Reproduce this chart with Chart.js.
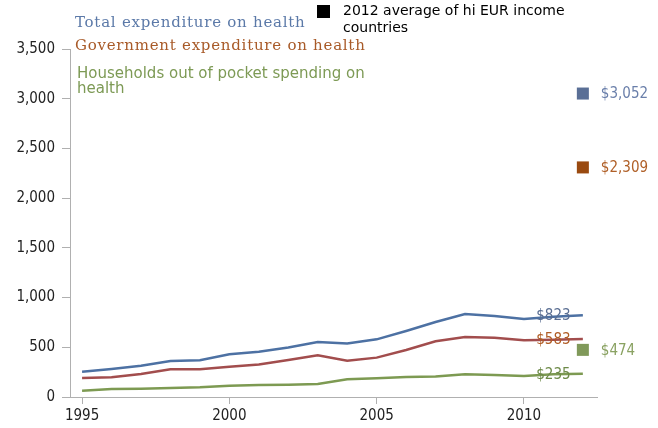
<!DOCTYPE html>
<html>
<head>
<meta charset="utf-8">
<script src="https://cdn.jsdelivr.net/npm/chart.js@4.4.0/dist/chart.umd.min.js"></script>
<style>
  html, body { margin: 0; padding: 0; background: #ffffff; }
  #wrap { width: 658px; height: 428px; }
</style>
</head>
<body>
<div id="wrap"><canvas id="c" width="658" height="428"></canvas></div>
<script>
// ---- data ----
const years = [1995,1996,1997,1998,1999,2000,2001,2002,2003,2004,2005,2006,2007,2008,2009,2010,2011,2012];
const totalExp = [255,282,315,363,370,430,455,497,553,537,580,664,755,835,815,785,808,823];
const govExp   = [191,198,231,278,278,305,328,372,419,365,396,473,560,604,597,570,577,583];
const oopExp   = [64,80,84,90,97,114,121,124,131,178,188,201,205,228,221,211,228,235];
const avgYear = 2012;
const avgValues = [3052, 2309, 474];
const tickYears = [1995, 2000, 2005, 2010];
const seriesNames = ['Total expenditure on health', 'Government expenditure on health', 'Households out of pocket spending on', 'health'];
const avgLegend = ['2012 average of hi EUR income', 'countries'];

// ---- style ----
const lineColors = ['#4d71a3', '#a24d4d', '#7d9a52'];
const legendColors = ['#5b79a8', '#a85a28', '#7d9a55'];
const squareColors = ['#5a6f96', '#9a4a10', '#80995a'];
const avgLabelColors = ['#6a7faa', '#b06028', '#8aa262'];
const endLabelColors = ['#5a6e92', '#b05c24', '#6d8a48'];
const condFont = '"DejaVu Sans Condensed", "DejaVu Sans", sans-serif';
const sansFont = '"DejaVu Sans", sans-serif';
const serifFont = '"DejaVu Serif", serif';

function pts(arr) { return arr.map((v, i) => ({ x: years[i], y: v })); }
const fmt = v => '$' + v.toLocaleString('en-US');

const labelPlugin = {
  id: 'labels',
  afterDatasetsDraw(chart) {
    const ctx = chart.ctx;
    const xs = chart.scales.x, ys = chart.scales.y;
    ctx.save();
    // average labels
    ctx.font = '15px ' + condFont;
    ctx.textAlign = 'left';
    ctx.textBaseline = 'middle';
    avgValues.forEach((v, i) => {
      ctx.fillStyle = avgLabelColors[i];
      ctx.fillText(fmt(v), xs.getPixelForValue(avgYear) + 18, ys.getPixelForValue(v) + 1);
    });
    // end labels
    ctx.textAlign = 'center';
    const series = [totalExp, govExp, oopExp];
    series.forEach((arr, i) => {
      const v = arr[arr.length - 1];
      ctx.fillStyle = endLabelColors[i];
      ctx.fillText(fmt(v), xs.getPixelForValue(years[years.length - 2]), ys.getPixelForValue(v) + 1);
    });
    // legend texts
    ctx.textAlign = 'left';
    ctx.textBaseline = 'alphabetic';
    ctx.font = '15px ' + serifFont;
    ctx.letterSpacing = '0.75px';
    ctx.fillStyle = legendColors[0];
    ctx.fillText(seriesNames[0], 75, 27);
    ctx.fillStyle = legendColors[1];
    ctx.fillText(seriesNames[1], 75, 50);
    ctx.letterSpacing = '0px';
    ctx.font = '15px ' + sansFont;
    ctx.fillStyle = legendColors[2];
    ctx.fillText(seriesNames[2], 77, 78);
    ctx.fillText(seriesNames[3], 77, 93);
    ctx.fillStyle = '#000000';
    ctx.fillRect(317, 5, 13, 13);
    ctx.font = '14px ' + sansFont;
    ctx.fillText(avgLegend[0], 343, 15);
    ctx.fillText(avgLegend[1], 343, 32);
    ctx.restore();
  }
};

new Chart(document.getElementById('c'), {
  type: 'line',
  data: {
    datasets: [
      { data: pts(totalExp), borderColor: lineColors[0], borderWidth: 2.5, pointRadius: 0, tension: 0 },
      { data: pts(govExp), borderColor: lineColors[1], borderWidth: 2.5, pointRadius: 0, tension: 0 },
      { data: pts(oopExp), borderColor: lineColors[2], borderWidth: 2.5, pointRadius: 0, tension: 0 },
      { type: 'scatter', data: avgValues.map(v => ({ x: avgYear, y: v })), showLine: false,
        pointStyle: 'rect', pointRadius: 8.5, pointBorderWidth: 0,
        pointBackgroundColor: squareColors, pointBorderColor: squareColors }
    ]
  },
  options: {
    responsive: false,
    devicePixelRatio: 1,
    animation: false,
    layout: { padding: { top: 49, right: 61, left: 0, bottom: 0 } },
    plugins: { legend: { display: false }, tooltip: { enabled: false } },
    scales: {
      x: {
        type: 'linear', min: 1994.59, max: 2012.48,
        afterBuildTicks: s => { s.ticks = tickYears.map(v => ({ value: v })); },
        afterFit: s => { s.height = 31; },
        grid: { drawOnChartArea: false, drawTicks: true, tickLength: 7, color: '#b0b0b0' },
        border: { color: '#b0b0b0', width: 1 },
        ticks: { callback: v => String(v), color: '#222222', font: { family: condFont, size: 15 }, padding: 3, maxRotation: 0 }
      },
      y: {
        min: 0, max: 3500,
        ticks: { stepSize: 500, callback: v => v.toLocaleString('en-US'), color: '#222222', font: { family: condFont, size: 15 }, padding: 7 },
        afterFit: s => { s.width = 70; },
        grid: { drawOnChartArea: false, drawTicks: true, tickLength: 8, color: '#b0b0b0' },
        border: { color: '#b0b0b0', width: 1 }
      }
    }
  },
  plugins: [labelPlugin]
});
</script>
</body>
</html>
